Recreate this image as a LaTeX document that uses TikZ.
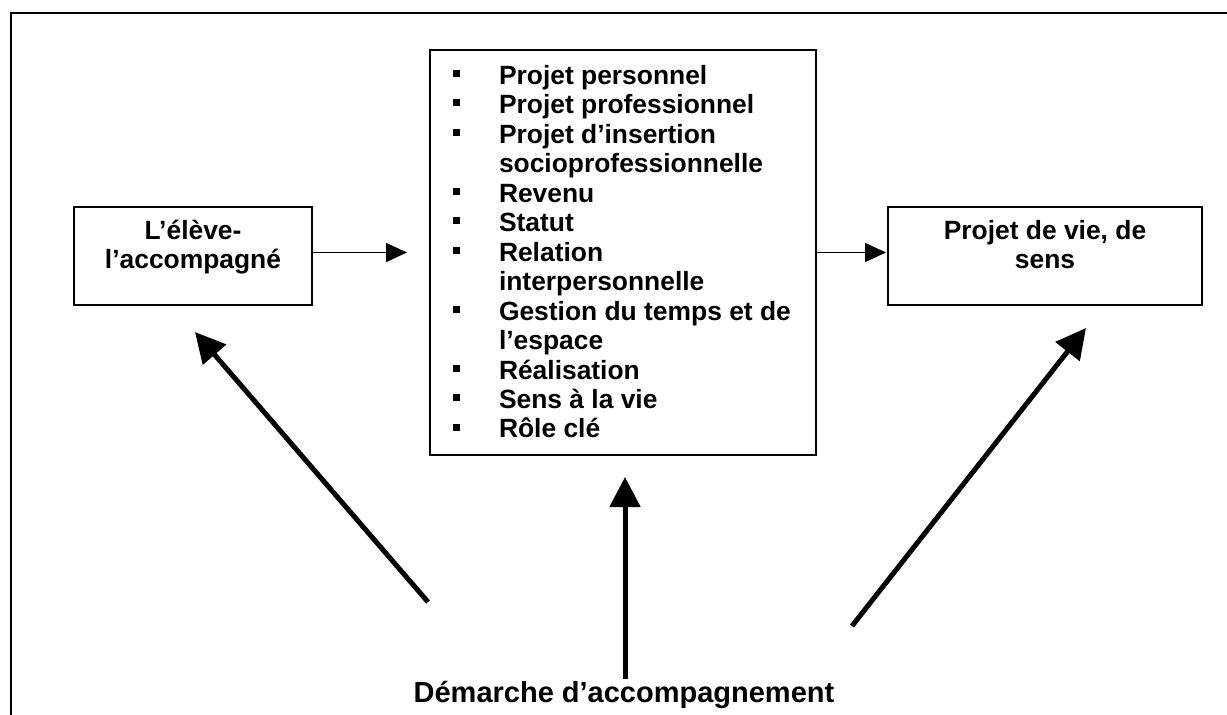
\documentclass[tikz,border=0pt]{standalone}
\usepackage{fontspec}
\setmainfont{Liberation Sans}
\usetikzlibrary{arrows.meta}

% small filled square used as list marker
\newcommand{\sqbullet}{\rule[7.3pt]{7pt}{7pt}}

\tikzset{
  frame/.style={line width=2.4pt},
  box/.style={draw, line width=1.8pt, rectangle, inner sep=0pt, outer sep=0pt},
  label/.style={inner sep=0pt, outer sep=0pt,
    font=\fontsize{26.4}{29.5}\selectfont\bfseries},
  biglabel/.style={inner sep=0pt, outer sep=0pt,
    font=\fontsize{29}{33}\selectfont\bfseries},
  thinarrow/.style={line width=1.5pt, -{Triangle[length=21pt,width=19pt]}},
  bigarrow/.style={line width=5pt, -{Triangle[length=30pt,width=30pt]}}
}

\begin{document}
\begin{tikzpicture}[x=1pt,y=-1pt]
\useasboundingbox (0,0) rectangle (1227,715);

% open outer frame: left and top sides only
\draw[frame] (11,715) -- (11,13) -- (1227,13);

% the three boxes
\node[box, minimum width=238pt, minimum height=98pt] (lbox) at (193,256) {};
\node[box, minimum width=386pt, minimum height=405pt] (mbox) at (623,252.5) {};
\node[box, minimum width=314pt, minimum height=98pt] (rbox) at (1045,256) {};

% box texts
\node[label, anchor=base] (ltext) at (193,239)
  {\begin{tabular}[t]{@{}c@{}}L’élève-\\l’accompagné\end{tabular}};
\node[label, anchor=base] (rtext) at (1045,239)
  {\begin{tabular}[t]{@{}c@{}}Projet de vie, de\\sens\end{tabular}};

\node[label, anchor=base west] (list) at (453,84)
  {\begin{tabular}[t]{@{}p{46pt}@{}l@{}}
    \sqbullet & Projet personnel\\
    \sqbullet & Projet professionnel\\
    \sqbullet & Projet d’insertion\\
              & socioprofessionnelle\\
    \sqbullet & Revenu\\
    \sqbullet & Statut\\
    \sqbullet & Relation\\
              & interpersonnelle\\
    \sqbullet & Gestion du temps et de\\
              & l’espace\\
    \sqbullet & Réalisation\\
    \sqbullet & Sens à la vie\\
    \sqbullet & Rôle clé
  \end{tabular}};

% bottom caption
\node[biglabel, anchor=base] (dem) at (624,702) {Démarche d’accompagnement};

% horizontal connectors
\draw[thinarrow, shorten >=23pt] (mbox.west -| lbox.east) -- (mbox.west);
\draw[thinarrow, shorten >=2pt] (mbox.east) -- (mbox.east -| rbox.west);

% thick arrows rising from the caption
\coordinate (t1) at (428,602);
\coordinate (h1) at (195,332);
\coordinate (t2) at (625,679);
\coordinate (h2) at (625,477);
\coordinate (t3) at (852,626);
\coordinate (h3) at (1086,328);
\draw[bigarrow] (t1) -- (h1);
\draw[bigarrow] (t2) -- (h2);
\draw[bigarrow] (t3) -- (h3);
\end{tikzpicture}
\end{document}
